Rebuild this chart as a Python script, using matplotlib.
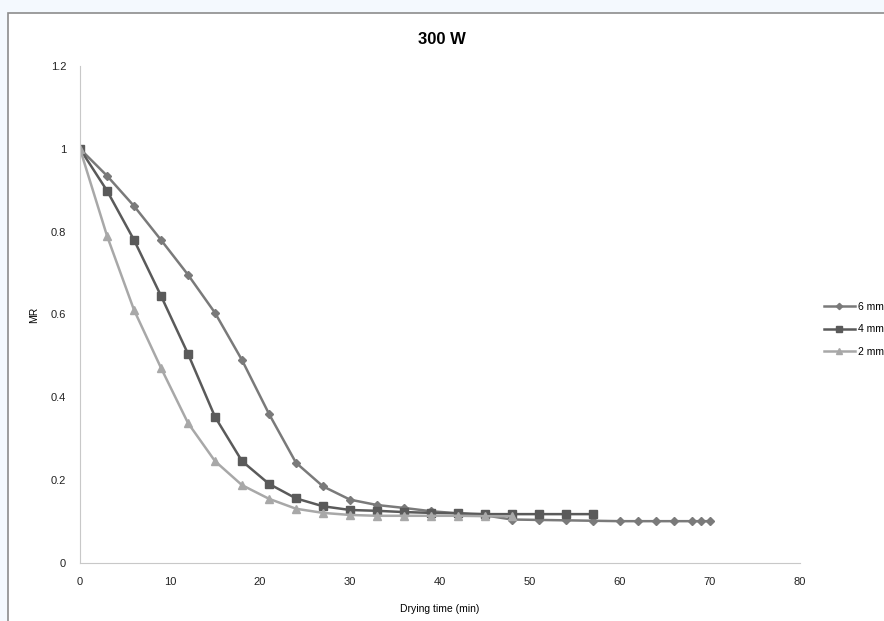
import matplotlib
matplotlib.use("Agg")
import matplotlib.pyplot as plt
from matplotlib.patches import Rectangle

# donnees (MR en fonction du temps de sechage, 300 W)
t_6mm = [0, 3, 6, 9, 12, 15, 18, 21, 24, 27, 30, 33, 36, 39, 42, 45, 48, 51,
         54, 57, 60, 62, 64, 66, 68, 69, 70]
mr_6mm = [1.0, 0.935, 0.862, 0.780, 0.696, 0.604, 0.490, 0.360, 0.242, 0.185,
          0.153, 0.140, 0.133, 0.125, 0.120, 0.115, 0.105, 0.104, 0.103, 0.102,
          0.101, 0.101, 0.101, 0.101, 0.101, 0.101, 0.101]

t_4mm = [0, 3, 6, 9, 12, 15, 18, 21, 24, 27, 30, 33, 36, 39, 42, 45, 48, 51, 54, 57]
mr_4mm = [1.0, 0.899, 0.780, 0.645, 0.505, 0.353, 0.246, 0.191, 0.156, 0.137,
          0.128, 0.126, 0.123, 0.121, 0.120, 0.118, 0.118, 0.118, 0.118, 0.118]

t_2mm = [0, 3, 6, 9, 12, 15, 18, 21, 24, 27, 30, 33, 36, 39, 42, 45, 48]
mr_2mm = [1.0, 0.790, 0.611, 0.471, 0.338, 0.246, 0.188, 0.155, 0.131, 0.121,
          0.116, 0.114, 0.114, 0.114, 0.114, 0.113, 0.113]

series = [
    ("6 mm", t_6mm, mr_6mm, "D", "#7a7a7a", 4),
    ("4 mm", t_4mm, mr_4mm, "s", "#5a5a5a", 6),
    ("2 mm", t_2mm, mr_2mm, "^", "#a8a8a8", 6),
]

plt.rcParams["font.family"] = ["Liberation Sans", "DejaVu Sans"]

fig = plt.figure(figsize=(8.84, 6.21), dpi=100)
fig.patch.set_facecolor("#f4f9fe")
# cadre blanc facon Excel (deborde a droite et en bas)
fig.patches.append(Rectangle((8 / 884, -0.05), 1.1, 1.05 - 13 / 621,
                             transform=fig.transFigure, facecolor="white",
                             edgecolor="#8c8c8c", linewidth=1.2, zorder=-1))

ax = fig.add_axes([80 / 884, (621 - 563) / 621, 720 / 884, (563 - 66) / 621])
ax.set_facecolor("none")

for label, t, mr, marker, color, ms in series:
    ax.plot(t, mr, marker=marker, color=color, markersize=ms, linewidth=1.8,
            label=label)

ax.set_xlim(0, 80)
ax.set_ylim(0, 1.2)
ax.set_xticks(range(0, 81, 10))
ax.set_yticks([0, 0.2, 0.4, 0.6, 0.8, 1.0, 1.2])
ax.set_yticklabels(["0", "0.2", "0.4", "0.6", "0.8", "1", "1.2"])
ax.tick_params(length=0, labelsize=8, pad=10, colors="#222222")
for side in ("top", "right"):
    ax.spines[side].set_visible(False)
for side in ("left", "bottom"):
    ax.spines[side].set_color("#c8c8c8")

ax.set_xlabel("Drying time (min)", fontsize=7.5, labelpad=12)
ax.set_ylabel("MR", fontsize=7.5, labelpad=8)
fig.text(0.5, 1 - 40 / 621, "300 W", ha="center", va="center", fontsize=12,
         fontweight="bold")

leg = ax.legend(loc="center left", bbox_to_anchor=(1.02, 0.47), frameon=False,
                fontsize=7.5, handlelength=3, labelspacing=1.2, handletextpad=0.3,
                markerscale=0.8)

fig.savefig("out.png", dpi=100)
